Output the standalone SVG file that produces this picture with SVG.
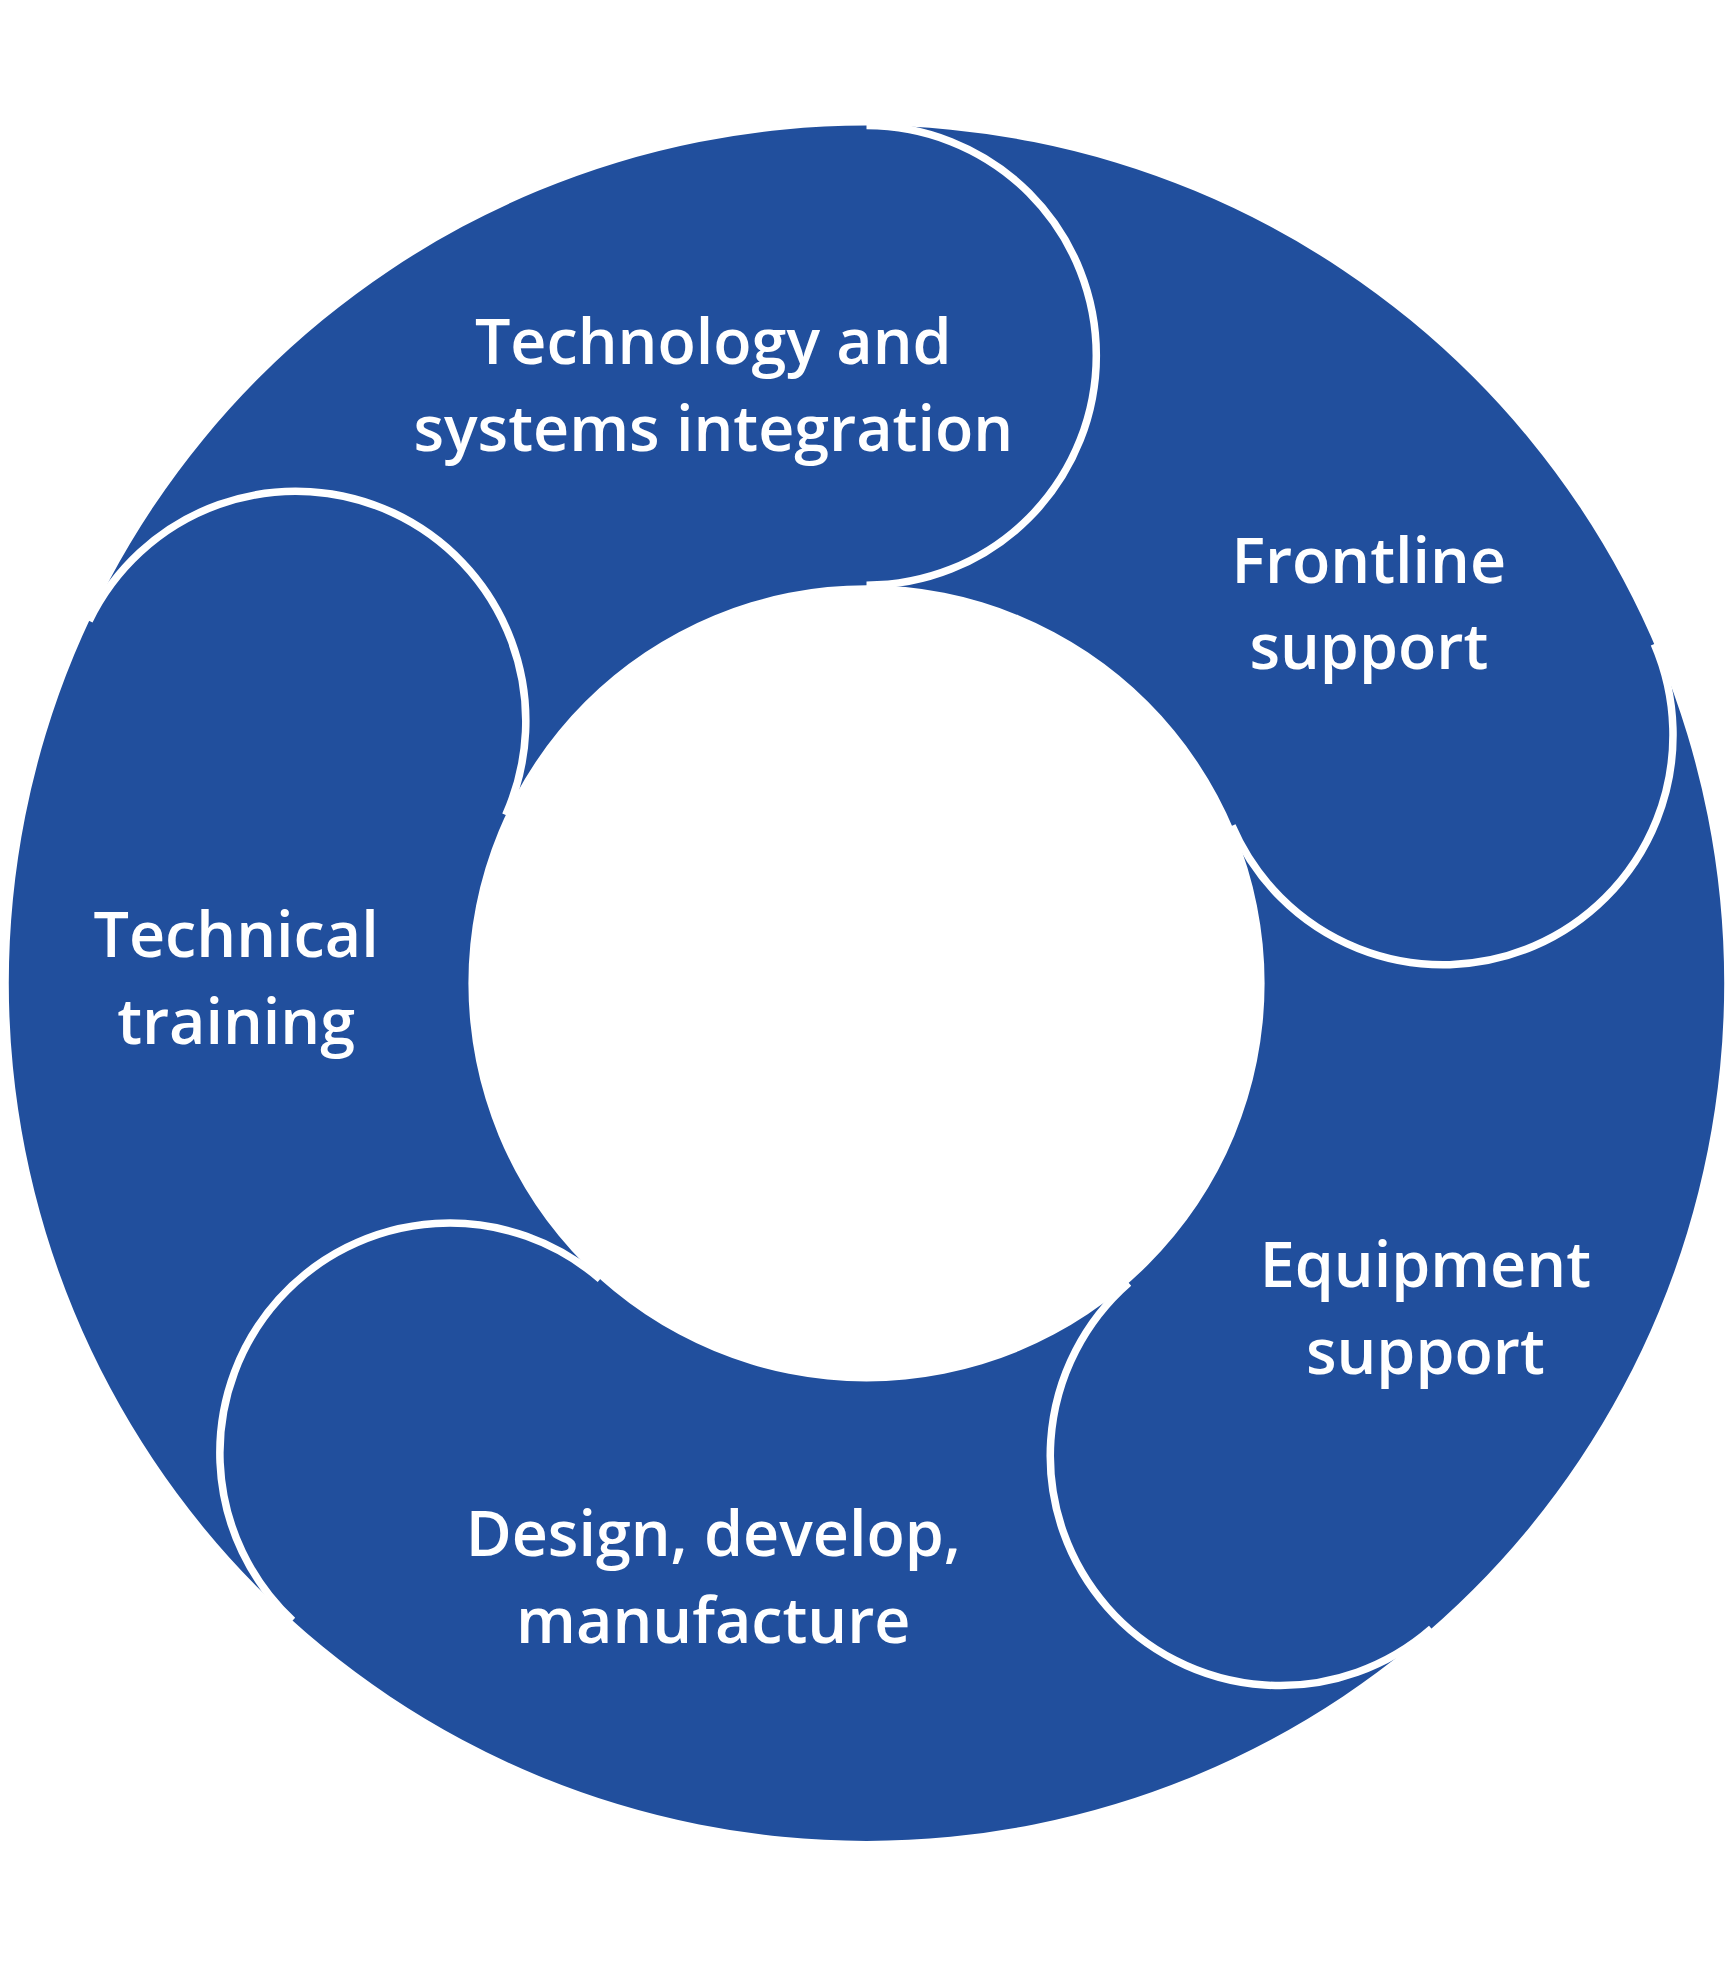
<svg xmlns="http://www.w3.org/2000/svg" width="1733" height="1966" viewBox="0 0 1733 1966">
<style>
.ring{fill:#214f9d;fill-rule:evenodd}
.cap{fill:none;stroke:#fff;stroke-width:6}
.lbl{font-family:"Open Sans","Noto Sans",sans-serif;font-weight:600;font-size:50px;fill:#fff;text-anchor:middle}
</style>
<rect width="1733" height="1966" fill="#fff"/>
<g transform="scale(1.2558)">
<path id="ring" class="ring" d="M7,783 A683,683 0 1,0 1373,783 A683,683 0 1,0 7,783 Z M373,783 A317,317 0 1,0 1007,783 A317,317 0 1,0 373,783 Z"/>
<g id="connectors">
<path class="cap" d="M690,100 A183,183 0 0,1 690,466"/>
<path class="cap" d="M1317.3,512.9 A183,183 0 0,1 981.1,657.6"/>
<path class="cap" d="M1139.9,1296.9 A183,183 0 0,1 898.8,1021.5"/>
<path class="cap" d="M233,1290.5 A183,183 0 0,1 477.9,1018.6"/>
<path class="cap" d="M71,494.4 A183,183 0 0,1 402.7,649"/>
</g>
<g id="n1"><text class="lbl" x="568" y="290">Technology and</text><text class="lbl" x="568" y="359">systems integration</text></g>
<g id="n2"><text class="lbl" x="1090" y="464">Frontline</text><text class="lbl" x="1090" y="533">support</text></g>
<g id="n3"><text class="lbl" x="1135" y="1025">Equipment</text><text class="lbl" x="1135" y="1094">support</text></g>
<g id="n4"><text class="lbl" x="568" y="1239">Design, develop,</text><text class="lbl" x="568" y="1308">manufacture</text></g>
<g id="n5"><text class="lbl" x="188" y="762">Technical</text><text class="lbl" x="188" y="831">training</text></g>
</g>
</svg>
